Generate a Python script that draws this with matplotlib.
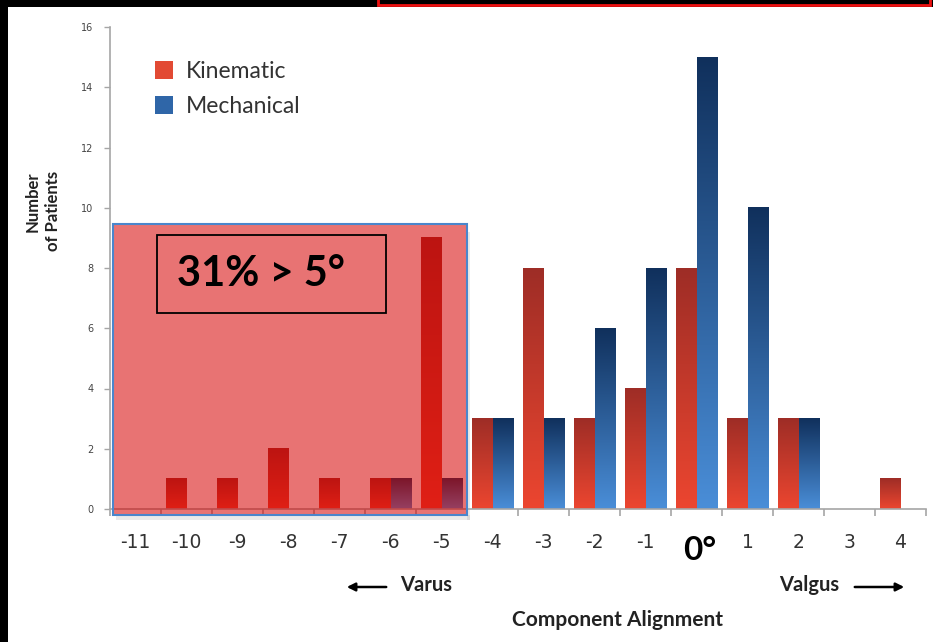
import numpy as np
import matplotlib.pyplot as plt
from matplotlib.patches import Patch, Rectangle, FancyArrowPatch
from matplotlib.colors import LinearSegmentedColormap
from matplotlib.transforms import ScaledTranslation

categories = ["-11", "-10", "-9", "-8", "-7", "-6", "-5", "-4",
              "-3", "-2", "-1", "0°", "1", "2", "3", "4"]
kinematic = [0, 1, 1, 2, 1, 1, 9, 3, 8, 3, 4, 8, 3, 3, 0, 1]
mechanical = [0, 0, 0, 0, 0, 1, 1, 3, 3, 6, 8, 15, 10, 3, 0, 0]
y_ticks = [0, 2, 4, 6, 8, 10, 12, 14, 16]

KIN_TOP, KIN_BOTTOM = "#9e2d26", "#ec4630"
MECH_TOP, MECH_BOTTOM = "#10305c", "#4a8ed8"
GRID_GRAY = "#a6a6a6"

W, H = 933, 642


def px(x, y):
    """Pixel position (from top-left) to figure fraction."""
    return x / W, 1 - y / H


def gradient_bars(ax, bars, top, bottom):
    """Paint each bar with a vertical gradient, dark at the top."""
    cmap = LinearSegmentedColormap.from_list("bar", [bottom, top])
    grad = np.linspace(0, 1, 256).reshape(-1, 1)
    for bar in bars:
        h = bar.get_height()
        if h <= 0:
            continue
        x0, w = bar.get_x(), bar.get_width()
        ax.imshow(grad, cmap=cmap, origin="lower", aspect="auto",
                  extent=[x0, x0 + w, 0, h], zorder=2,
                  interpolation="bilinear")


fig = plt.figure(figsize=(W / 100, H / 100), dpi=100)
fig.patch.set_facecolor("white")
ax = fig.add_axes([110 / W, 133 / H, 816 / W, 482 / H])

x = np.arange(len(categories))
width = 0.41
kin_bars = ax.bar(x - width / 2, kinematic, width, facecolor="none", linewidth=0)
mech_bars = ax.bar(x + width / 2, mechanical, width, facecolor="none", linewidth=0)
gradient_bars(ax, kin_bars, KIN_TOP, KIN_BOTTOM)
gradient_bars(ax, mech_bars, MECH_TOP, MECH_BOTTOM)

ax.set_xlim(-0.5, len(categories) - 0.5)
ax.set_ylim(0, 16)

# axes styling
for side in ("top", "right"):
    ax.spines[side].set_visible(False)
for side in ("left", "bottom"):
    ax.spines[side].set_color(GRID_GRAY)
    ax.spines[side].set_linewidth(1.2)

ax.set_xticks(x)
ax.set_xticklabels(categories)
ax.set_xticks(np.arange(-0.5, len(categories)), minor=True)
ax.tick_params(axis="x", which="major", length=0, pad=17,
               labelsize=13.5, labelcolor="#333333")
ax.tick_params(axis="x", which="minor", length=5, width=1.2, color=GRID_GRAY)
ax.set_yticks(y_ticks)
ax.tick_params(axis="y", length=4, width=1, color=GRID_GRAY,
               labelsize=7, labelcolor="#444444", pad=8)

zero = ax.get_xticklabels()[categories.index("0°")]
zero.set_fontsize(24)
zero.set_fontweight("bold")
zero.set_color("black")
zero.set_family("Lato")
zero.set_transform(zero.get_transform()
                   + ScaledTranslation(3 / 100, -3 / 100, fig.dpi_scale_trans))

# highlighted varus region, with a soft shadow along its lower and right edges
rx, ry, rw, rh = -0.44, -0.2, 6.94, 9.66
ax.add_patch(Rectangle((rx + 0.06, ry - 0.15), rw, 0.15, facecolor="#999999",
                       alpha=0.2, edgecolor="none", zorder=1.5, clip_on=False))
ax.add_patch(Rectangle((rx + rw, ry - 0.15), 0.06, rh - 0.1, facecolor="#999999",
                       alpha=0.2, edgecolor="none", zorder=1.5, clip_on=False))
ax.add_patch(Rectangle((rx, ry), rw, rh, facecolor=(214 / 255, 0, 0),
                       alpha=0.55, edgecolor="none", zorder=3, clip_on=False))
ax.add_patch(Rectangle((rx, ry), rw, rh, fill=False, edgecolor="#4a86cc",
                       linewidth=1.5, zorder=3.1, clip_on=False))

ax.add_patch(Rectangle((0.42, 6.5), 4.49, 2.6, fill=False, edgecolor="black",
                       linewidth=1.3, zorder=4))
ax.text(0.81, 7.8, "31% > 5°", fontsize=30, fontweight="bold", family="Lato",
        va="center", ha="left", color="black", zorder=5)

handles = [Patch(facecolor="#e24a34"), Patch(facecolor="#2f66a8")]
ax.legend(handles, ["Kinematic", "Mechanical"], loc="upper left",
          bbox_to_anchor=(0.055, 0.929), frameon=False, borderpad=0,
          borderaxespad=0, handlelength=0.8, handleheight=0.8,
          handletextpad=0.55, labelspacing=0.6, labelcolor="#333333",
          prop={"family": "Lato", "size": 16.5})

fig.text(*px(43, 211), "Number\nof Patients", rotation=90, ha="center",
         va="center", multialignment="right", fontsize=12, fontweight="bold",
         family="Lato", color="#222222", linespacing=1.3)

# direction labels
fig.text(*px(400, 585), "Varus", ha="left", va="center", fontsize=14.5,
         fontweight="bold", family="Lato", color="#222222")
fig.text(*px(779, 585), "Valgus", ha="left", va="center", fontsize=14.5,
         fontweight="bold", family="Lato", color="#222222")
for start, end in (((389, 587), (344, 587)), ((852, 587), (907, 587))):
    fig.patches.append(FancyArrowPatch(px(*start), px(*end),
                                       transform=fig.transFigure,
                                       arrowstyle="-|>", mutation_scale=12,
                                       linewidth=1.8, color="black"))
fig.text(*px(618, 620), "Component Alignment", ha="center", va="center",
         fontsize=15, fontweight="bold", family="Lato", color="#222222")

# black frame strips at the edges
fig.patches.append(Rectangle((0, 0), 8 / W, 1, transform=fig.transFigure,
                             facecolor="black", edgecolor="none"))
fig.patches.append(Rectangle((0, 1 - 7 / H), 1, 7 / H, transform=fig.transFigure,
                             facecolor="black", edgecolor="none"))
fig.patches.append(Rectangle(px(378, 5), 552 / W, 8 / H, transform=fig.transFigure,
                             facecolor="black", edgecolor="#ee1111", linewidth=2))

fig.savefig("out.png", dpi=100)
